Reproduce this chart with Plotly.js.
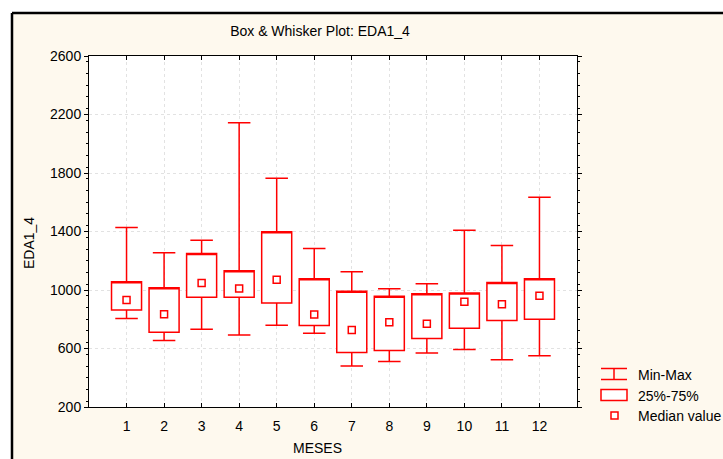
<!DOCTYPE html>
<html>
<head>
<meta charset="utf-8">
<script src="https://cdn.plot.ly/plotly-3.0.1.min.js"></script>
<style>html,body{margin:0;padding:0;background:#fff;}#chart{width:723px;height:459px;}</style>
</head>
<body>
<div id="chart"></div>
<script>
// Data (EDA1_4 by month)
const months   = [1, 2, 3, 4, 5, 6, 7, 8, 9, 10, 11, 12];
const tickText = ['1','2','3','4','5','6','7','8','9','10','11','12'];
const minVals  = [805, 655, 732, 693, 759, 705, 480, 511, 570, 593, 523, 550];
const q1Vals   = [864, 711, 950, 950, 911, 757, 573, 586, 668, 739, 791, 800];
const medVals  = [932, 834, 1048, 1011, 1070, 832, 727, 780, 770, 920, 902, 961];
const q3Vals   = [1057, 1016, 1250, 1132, 1398, 1077, 991, 957, 975, 980, 1052, 1077];
const maxVals  = [1427, 1255, 1341, 2143, 1764, 1283, 1125, 1009, 1043, 1409, 1305, 1634];

const RED = '#FF0000';
const CREAM = '#FEF9EE';

// plot-area geometry in pixels, used only to place frame/legend decorations
const L = 89, T = 56, W = 488, H = 351;
const px = v => (v - L) / W;
const py = v => (T + H - v) / H;

const boxTrace = {
  type: 'box',
  x: months,
  q1: q1Vals,
  // Statistica draws no median line, so the box's median line is laid on the Q3 edge;
  // the real medians are drawn as square markers below.
  median: q3Vals,
  q3: q3Vals,
  lowerfence: minVals,
  upperfence: maxVals,
  width: 0.8,
  whiskerwidth: 0.75,
  boxpoints: false,
  fillcolor: '#FFFFFF',
  line: {color: RED, width: 1.5},
  hoverinfo: 'skip',
  showlegend: false
};

const medTrace = {
  type: 'scatter',
  mode: 'markers',
  x: months,
  y: medVals,
  marker: {symbol: 'square', size: 7, color: '#FFFFFF', line: {color: RED, width: 1.5}},
  hoverinfo: 'skip',
  showlegend: false
};

const font = {family: 'Liberation Sans, Arial, sans-serif', size: 14, color: '#000'};

const shapes = [
  // white outer strips + black frame edges (Statistica window frame)
  {type:'rect', xref:'paper', yref:'paper', x0:-0.3, x1:1.5, y0:py(13), y1:py(-20), fillcolor:'#FFFFFF', line:{width:0}, layer:'below'},
  {type:'rect', xref:'paper', yref:'paper', x0:-0.3, x1:px(12), y0:py(480), y1:py(-20), fillcolor:'#FFFFFF', line:{width:0}, layer:'below'},
  {type:'line', xref:'paper', yref:'paper', x0:px(12), x1:1.5, y0:py(13), y1:py(13), line:{color:'#000', width:2.5}},
  {type:'line', xref:'paper', yref:'paper', x0:px(12), x1:px(12), y0:py(13), y1:py(480), line:{color:'#000', width:2.5}},
  // legend icons
  {type:'line', xref:'paper', yref:'paper', x0:px(601), x1:px(627), y0:py(368.5), y1:py(368.5), line:{color:RED, width:1.5}},
  {type:'line', xref:'paper', yref:'paper', x0:px(601), x1:px(627), y0:py(379.5), y1:py(379.5), line:{color:RED, width:1.5}},
  {type:'line', xref:'paper', yref:'paper', x0:px(614), x1:px(614), y0:py(368.5), y1:py(379.5), line:{color:RED, width:1.5}},
  {type:'rect', xref:'paper', yref:'paper', x0:px(601), x1:px(627), y0:py(389.5), y1:py(400.5), fillcolor:'#FFFFFF', line:{color:RED, width:1.5}},
  {type:'rect', xref:'paper', yref:'paper', x0:px(611), x1:px(618), y0:py(412), y1:py(419), fillcolor:'#FFFFFF', line:{color:RED, width:1.5}}
];

const annotations = [
  {text:'Min-Max', xref:'paper', yref:'paper', x:px(636), y:py(375), xanchor:'left', yanchor:'middle', showarrow:false, font:font},
  {text:'25%-75%', xref:'paper', yref:'paper', x:px(636), y:py(396), xanchor:'left', yanchor:'middle', showarrow:false, font:font},
  {text:'Median value', xref:'paper', yref:'paper', x:px(636), y:py(416), xanchor:'left', yanchor:'middle', showarrow:false, font:font},
  {text:'MESES', xref:'paper', yref:'paper', x:px(317), y:py(448), xanchor:'center', yanchor:'middle', showarrow:false, font:font},
  {text:'EDA1_4', xref:'paper', yref:'paper', x:px(29), y:py(243), xanchor:'center', yanchor:'middle', textangle:-90, showarrow:false, font:font}
];

const layout = {
  width: 723, height: 459,
  margin: {l: L, r: 723 - L - W, t: T, b: 459 - T - H, pad: 0},
  paper_bgcolor: CREAM,
  plot_bgcolor: '#FFFFFF',
  font: font,
  showlegend: false,
  title: {text: 'Box & Whisker Plot: EDA1_4', font: font, xref: 'container', yref: 'container',
          x: 320/723, y: 1 - 31/459, xanchor: 'center', yanchor: 'middle'},
  xaxis: {
    range: [0, 13], tickmode: 'array', tickvals: months, ticktext: tickText,
    showline: true, linecolor: '#000', linewidth: 1, mirror: 'ticks',
    ticks: 'inside', ticklen: 4, tickcolor: '#000', ticklabelstandoff: 6,
    showgrid: true, gridcolor: '#E2E2E2', griddash: 'dot', gridwidth: 1,
    zeroline: false, tickfont: font, fixedrange: true
  },
  yaxis: {
    range: [200, 2600], tick0: 200, dtick: 400,
    showline: true, linecolor: '#000', linewidth: 1, mirror: 'ticks',
    ticks: 'outside', ticklen: 4, tickcolor: '#000',
    minor: {dtick: 80, ticks: 'outside', ticklen: 2, tickcolor: '#000', showgrid: false},
    showgrid: true, gridcolor: '#E2E2E2', griddash: 'dot', gridwidth: 1,
    zeroline: false, tickfont: font, fixedrange: true
  },
  shapes: shapes,
  annotations: annotations
};

Plotly.newPlot('chart', [boxTrace, medTrace], layout, {staticPlot: true, displayModeBar: false});
</script>
</body>
</html>
